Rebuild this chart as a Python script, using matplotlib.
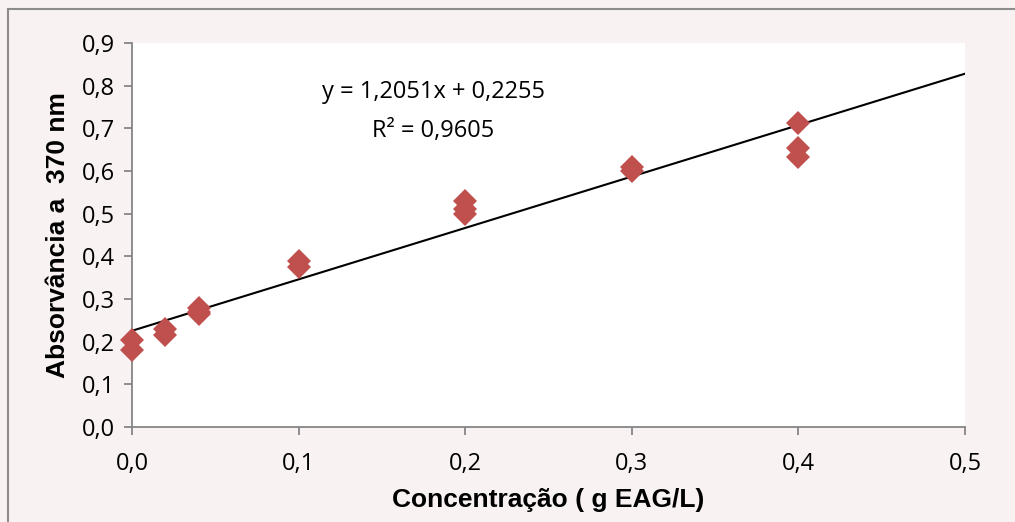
import numpy as np
import matplotlib
matplotlib.use("Agg")
import matplotlib.pyplot as plt
from matplotlib.patches import Rectangle

### Data
conc = [0.0, 0.0, 0.02, 0.02, 0.04, 0.04, 0.04, 0.1, 0.1,
        0.2, 0.2, 0.2, 0.3, 0.3, 0.4, 0.4, 0.4]
absorb = [0.205, 0.18, 0.23, 0.215, 0.28, 0.27, 0.265, 0.39, 0.375,
          0.53, 0.51, 0.50, 0.61, 0.60, 0.712, 0.653, 0.632]
slope = 1.2051
intercept = 0.2255
r2 = 0.9605
x_ticks = [0.0, 0.1, 0.2, 0.3, 0.4, 0.5]
y_ticks = [0.0, 0.1, 0.2, 0.3, 0.4, 0.5, 0.6, 0.7, 0.8, 0.9]

def comma(v, d=1):
  return ("%.*f" % (d, v)).replace(".", ",")

bg = "#F8F2F2"
fig = plt.figure(figsize=(10.15, 5.22), dpi=100, facecolor=bg)
fig.patches.append(Rectangle((8/1015, -0.1), 1.2, 1 - 9/522 + 0.1,
                             transform=fig.transFigure, fill=False,
                             edgecolor="#8C8C8C", linewidth=1.5))
ax = fig.add_axes([132/1015, 1 - 427/522, (965-132)/1015, (427-43)/522])
ax.set_facecolor("white")

### trend line over the full axis
xl = np.array([0.0, 0.5])
ax.plot(xl, slope*xl + intercept, color="black", linewidth=1.5, zorder=2)
ax.plot(conc, absorb, linestyle="none", marker="D", markersize=12,
        color="#C0504D", markeredgewidth=0, zorder=3, clip_on=False)

ax.set_xlim(0, 0.5)
ax.set_ylim(0, 0.9)
ax.set_xticks(x_ticks)
ax.set_yticks(y_ticks)
ax.set_xticklabels([comma(v) for v in x_ticks])
ax.set_yticklabels([comma(v) for v in y_ticks])

tick_font = "Open Sans"
for lab in ax.get_xticklabels() + ax.get_yticklabels():
  lab.set_fontfamily(tick_font)
  lab.set_fontsize(17)
ax.tick_params(direction="out", length=6, width=1.3, color="#868686")
ax.tick_params(axis="x", pad=12)
ax.tick_params(axis="y", pad=6)
for s in ["top", "right"]:
  ax.spines[s].set_visible(False)
for s in ["left", "bottom"]:
  ax.spines[s].set_color("#868686")
  ax.spines[s].set_linewidth(1.3)

ax.set_xlabel("Concentração ( g EAG/L)", fontfamily="Liberation Sans",
              fontweight="bold", fontsize=19, labelpad=9)
ax.set_ylabel("Absorvância a  370 nm", fontfamily="Liberation Sans",
              fontweight="bold", fontsize=19, labelpad=9)

eq = "y = %sx + %s\nR² = %s" % (comma(slope, 4), comma(intercept, 4), comma(r2, 4))
ax.text(0.181, 0.739, eq, ha="center", va="center", fontfamily=tick_font,
        fontsize=17, linespacing=1.8)

fig.savefig("out.png", dpi=100, facecolor=bg)
